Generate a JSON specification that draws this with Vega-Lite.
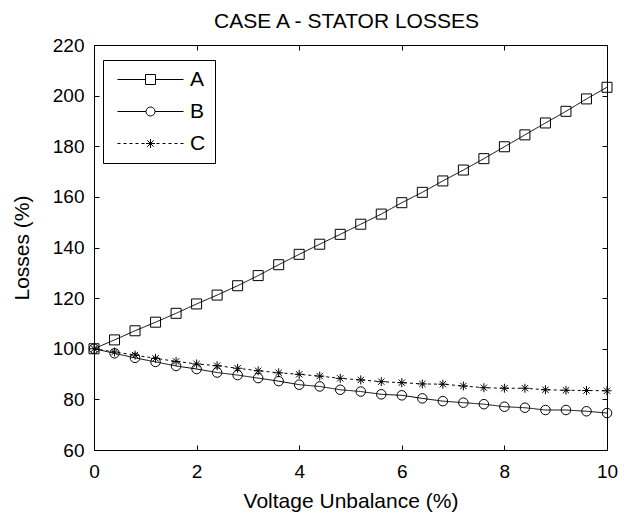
{
  "$schema": "https://vega.github.io/schema/vega-lite/v6.json",
  "width": 513,
  "height": 405,
  "autosize": {"type": "none"},
  "padding": {"left": 94, "top": 45, "right": 17, "bottom": 64},
  "background": "white",
  "title": {"text": "CASE A - STATOR LOSSES"},
  "data": {"values": [
    {"x":0,"s":"A","v":100},{"x":0.4,"s":"A","v":103.5},{"x":0.8,"s":"A","v":107.1},{"x":1.2,"s":"A","v":110.5},{"x":1.6,"s":"A","v":114},{"x":2,"s":"A","v":117.7},{"x":2.4,"s":"A","v":121.2},{"x":2.8,"s":"A","v":124.9},{"x":3.2,"s":"A","v":128.9},{"x":3.6,"s":"A","v":133.2},{"x":4,"s":"A","v":137.3},{"x":4.4,"s":"A","v":141.3},{"x":4.8,"s":"A","v":145.2},{"x":5.2,"s":"A","v":149.2},{"x":5.6,"s":"A","v":153.2},{"x":6,"s":"A","v":157.7},{"x":6.4,"s":"A","v":161.8},{"x":6.8,"s":"A","v":166.3},{"x":7.2,"s":"A","v":170.6},{"x":7.6,"s":"A","v":175.1},{"x":8,"s":"A","v":179.8},{"x":8.4,"s":"A","v":184.5},{"x":8.8,"s":"A","v":189.2},{"x":9.2,"s":"A","v":193.8},{"x":9.6,"s":"A","v":198.7},{"x":10,"s":"A","v":203.3},
    {"x":0,"s":"B","v":100},{"x":0.4,"s":"B","v":98.2},{"x":0.8,"s":"B","v":96.4},{"x":1.2,"s":"B","v":94.8},{"x":1.6,"s":"B","v":93.2},{"x":2,"s":"B","v":92},{"x":2.4,"s":"B","v":90.6},{"x":2.8,"s":"B","v":89.6},{"x":3.2,"s":"B","v":88.4},{"x":3.6,"s":"B","v":87.2},{"x":4,"s":"B","v":85.8},{"x":4.4,"s":"B","v":85.1},{"x":4.8,"s":"B","v":83.8},{"x":5.2,"s":"B","v":83.1},{"x":5.6,"s":"B","v":82},{"x":6,"s":"B","v":81.6},{"x":6.4,"s":"B","v":80.4},{"x":6.8,"s":"B","v":79.3},{"x":7.2,"s":"B","v":78.7},{"x":7.6,"s":"B","v":78.1},{"x":8,"s":"B","v":77.1},{"x":8.4,"s":"B","v":76.7},{"x":8.8,"s":"B","v":75.8},{"x":9.2,"s":"B","v":75.8},{"x":9.6,"s":"B","v":75.3},{"x":10,"s":"B","v":74.6},
    {"x":0,"s":"C","v":100},{"x":0.4,"s":"C","v":98.7},{"x":0.8,"s":"C","v":97.5},{"x":1.2,"s":"C","v":96.2},{"x":1.6,"s":"C","v":95},{"x":2,"s":"C","v":94},{"x":2.4,"s":"C","v":93.3},{"x":2.8,"s":"C","v":92.3},{"x":3.2,"s":"C","v":91.3},{"x":3.6,"s":"C","v":90.5},{"x":4,"s":"C","v":89.9},{"x":4.4,"s":"C","v":89.2},{"x":4.8,"s":"C","v":88.3},{"x":5.2,"s":"C","v":87.7},{"x":5.6,"s":"C","v":87},{"x":6,"s":"C","v":86.6},{"x":6.4,"s":"C","v":86.1},{"x":6.8,"s":"C","v":86},{"x":7.2,"s":"C","v":85.3},{"x":7.6,"s":"C","v":84.6},{"x":8,"s":"C","v":84.4},{"x":8.4,"s":"C","v":84.4},{"x":8.8,"s":"C","v":83.8},{"x":9.2,"s":"C","v":83.6},{"x":9.6,"s":"C","v":83.5},{"x":10,"s":"C","v":83.4}
  ]},
  "layer": [
    {
      "mark": {"type": "line", "color": "black", "strokeWidth": 1},
      "encoding": {
        "x": {"field": "x", "type": "quantitative", "scale": {"domain": [0, 10], "nice": false, "zero": false}, "axis": {"orient": "bottom", "values": [0, 2, 4, 6, 8, 10], "title": "Voltage Unbalance (%)", "labelPadding": 12}},
        "y": {"field": "v", "type": "quantitative", "scale": {"domain": [60, 220], "nice": false, "zero": false}, "axis": {"orient": "left", "values": [60, 80, 100, 120, 140, 160, 180, 200, 220], "title": "Losses (%)"}},
        "detail": {"field": "s", "type": "nominal"},
        "strokeDash": {"field": "s", "type": "nominal", "scale": {"domain": ["A", "B", "C"], "range": [[1, 0], [1, 0], [3, 3]]}, "legend": null}
      }
    },
    {
      "mark": {"type": "point", "filled": false, "color": "black", "strokeWidth": 1, "opacity": 1},
      "encoding": {
        "x": {"field": "x", "type": "quantitative", "axis": {"orient": "top", "values": [0, 2, 4, 6, 8, 10], "labels": false, "title": null}},
        "y": {"field": "v", "type": "quantitative", "axis": {"orient": "right", "values": [60, 80, 100, 120, 140, 160, 180, 200, 220], "labels": false, "title": null}},
        "shape": {"field": "s", "type": "nominal", "scale": {"domain": ["A", "B", "C"], "range": ["square", "circle", "M-1,0H1M0,-1V1M-0.7,-0.7L0.7,0.7M-0.7,0.7L0.7,-0.7"]}, "legend": null},
        "size": {"field": "s", "type": "ordinal", "scale": {"domain": ["A", "B", "C"], "range": [100, 81, 81]}, "legend": null}
      }
    },
    {
      "mark": {"type": "point", "filled": false, "color": "black", "opacity": 0},
      "encoding": {
        "x": {"field": "x", "type": "quantitative", "axis": null},
        "y": {"field": "v", "type": "quantitative", "axis": null},
        "shape": {"field": "s", "type": "nominal", "scale": {"domain": ["A", "B", "C"], "range": [
          "M-6.6,0H-1M1,0H6.6M-1,-1H1V1H-1Z",
          "M-6.6,0H-0.9M0.9,0H6.6M-0.9,0A0.9,0.9 0 1,0 0.9,0A0.9,0.9 0 1,0 -0.9,0Z",
          "M-6.6,0H-6M-5.4,0H-4.8M-4.2,0H-3.6M-3,0H-2.4M-1.8,0H-1.2M1.2,0H1.8M2.4,0H3M3.6,0H4.2M4.8,0H5.4M6,0H6.6M-0.9,0H0.9M0,-0.9V0.9M-0.64,-0.64L0.64,0.64M-0.64,0.64L0.64,-0.64"
        ]}, "legend": {
          "orient": "none", "legendX": 9, "legendY": 15, "title": null,
          "strokeColor": "black", "fillColor": "white", "padding": 9, "cornerRadius": 0,
          "symbolSize": 100, "symbolOffset": 28, "labelOffset": 29, "rowPadding": 10,
          "symbolOpacity": 1, "symbolStrokeColor": "black", "symbolFillColor": "transparent", "symbolStrokeWidth": 1,
          "labelFont": "Liberation Sans", "labelFontSize": 21, "labelColor": "black"
        }}
      }
    }
  ],
  "resolve": {"scale": {"shape": "independent"}, "axis": {"x": "independent", "y": "independent"}},
  "config": {
    "font": "Liberation Sans",
    "view": {"stroke": "black", "strokeWidth": 1},
    "axis": {"grid": false, "domain": false, "offset": -5, "tickColor": "black", "tickWidth": 1, "tickSize": 5, "labelFont": "Liberation Sans", "labelFontSize": 19, "labelColor": "black", "labelPadding": 10, "labelFlush": false, "labelOverlap": false, "titleFont": "Liberation Sans", "titleFontSize": 21, "titleFontWeight": "normal", "titleColor": "black"},
    "axisX": {"titlePadding": 9},
    "axisY": {"titlePadding": 20},
    "title": {"font": "Liberation Sans", "fontSize": 21, "fontWeight": "normal", "color": "black", "offset": 4, "dx": -4}
  }
}
